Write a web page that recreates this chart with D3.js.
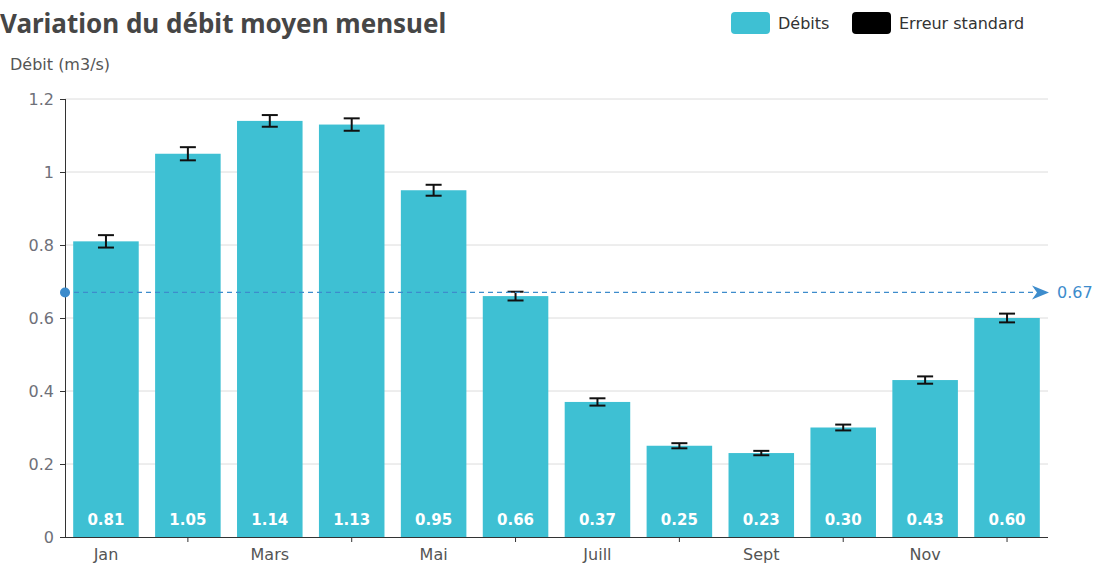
<!DOCTYPE html>
<html>
<head>
<meta charset="utf-8">
<script src="https://cdn.jsdelivr.net/npm/d3@7"></script>
<style>
  body { margin: 0; background: #fff; }
  text { font-family: "DejaVu Sans", sans-serif; }
</style>
</head>
<body>
<svg id="chart" width="1094" height="566"></svg>
<script>
// monthly data
var months = ["Jan", "Févr", "Mars", "Avr", "Mai", "Juin", "Juill", "Août", "Sept", "Oct", "Nov", "Déc"];
var debits = [0.81, 1.05, 1.14, 1.13, 0.95, 0.66, 0.37, 0.25, 0.23, 0.30, 0.43, 0.60];
var erreurs = [0.017, 0.018, 0.016, 0.017, 0.015, 0.012, 0.01, 0.007, 0.006, 0.008, 0.01, 0.012];
var yTicks = [0, 0.2, 0.4, 0.6, 0.8, 1, 1.2];
var moyenne = 0.67;

var barColor = "#3ec0d3",
    lineColor = "#3d8ccc";

var svg = d3.select("#chart");
var margin = {top: 99, left: 65, right: 46, bottom: 29},
    width = 1094 - margin.left - margin.right,
    height = 566 - margin.top - margin.bottom;

var g = svg.append("g")
  .attr("transform", "translate(" + margin.left + "," + margin.top + ")");

var x = d3.scaleBand()
  .domain(months)
  .range([0, width])
  .paddingInner(0.2)
  .paddingOuter(0.1);

var y = d3.scaleLinear()
  .domain([0, 1.2])
  .range([height, 0]);

// grid lines
g.selectAll(".grid")
  .data(yTicks.slice(1))
  .enter().append("line")
    .attr("x1", 0).attr("x2", width)
    .attr("y1", function(d) { return y(d); })
    .attr("y2", function(d) { return y(d); })
    .attr("stroke", "#dcdcdc");

// bars
g.selectAll(".bar")
  .data(debits)
  .enter().append("rect")
    .attr("class", "bar")
    .attr("x", function(d, i) { return x(months[i]); })
    .attr("width", x.bandwidth())
    .attr("y", function(d) { return y(d); })
    .attr("height", function(d) { return height - y(d); })
    .attr("fill", barColor);

// value labels inside bottom
g.selectAll(".val")
  .data(debits)
  .enter().append("text")
    .attr("x", function(d, i) { return x(months[i]) + x.bandwidth() / 2; })
    .attr("y", height - 12)
    .attr("text-anchor", "middle")
    .attr("fill", "#fff")
    .style("font-size", "15px")
    .style("font-weight", "bold")
    .text(function(d) { return d.toFixed(2); });

// error bars
var err = g.selectAll(".err")
  .data(debits)
  .enter().append("g")
    .attr("transform", function(d, i) { return "translate(" + (x(months[i]) + x.bandwidth() / 2) + ",0)"; });
err.append("line")
  .attr("y1", function(d, i) { return y(d + erreurs[i]); })
  .attr("y2", function(d, i) { return y(d - erreurs[i]); })
  .attr("stroke", "#111").attr("stroke-width", 2);
err.append("line")
  .attr("x1", -8).attr("x2", 8)
  .attr("y1", function(d, i) { return y(d + erreurs[i]); })
  .attr("y2", function(d, i) { return y(d + erreurs[i]); })
  .attr("stroke", "#111").attr("stroke-width", 2);
err.append("line")
  .attr("x1", -8).attr("x2", 8)
  .attr("y1", function(d, i) { return y(d - erreurs[i]); })
  .attr("y2", function(d, i) { return y(d - erreurs[i]); })
  .attr("stroke", "#111").attr("stroke-width", 2);

// y axis
var yAxis = g.append("g")
  .call(d3.axisLeft(y).tickValues(yTicks).tickSize(5).tickPadding(6)
    .tickFormat(function(d) { return d3.format("~g")(d); }));
yAxis.select(".domain").attr("stroke", "#333").attr("d", "M0.5," + height + "V0");
yAxis.selectAll(".tick line").attr("stroke", "#333");
yAxis.selectAll("text").attr("fill", "#6e7079").style("font-size", "16px");

// x axis: labels on every other month, ticks on the others
var xAxis = g.append("g")
  .attr("transform", "translate(0," + height + ")")
  .call(d3.axisBottom(x).tickSize(0).tickPadding(12)
    .tickFormat(function(d, i) { return i % 2 == 0 ? d : ""; }));
xAxis.select(".domain").attr("stroke", "#333").attr("d", "M0," + 0.5 + "H" + width);
xAxis.selectAll("text").attr("fill", "#555").style("font-size", "16px");
xAxis.selectAll(".tick").filter(function(d, i) { return i % 2 == 1; })
  .append("line")
    .attr("y2", 5).attr("stroke", "#333");

// mean line
var ym = y(moyenne);
g.append("line")
  .attr("x1", 0).attr("x2", width - 10)
  .attr("y1", ym).attr("y2", ym)
  .attr("stroke", lineColor)
  .attr("stroke-width", 1.3)
  .attr("stroke-dasharray", "5,4");
g.append("circle")
  .attr("cx", 0).attr("cy", ym).attr("r", 5)
  .attr("fill", lineColor);
g.append("path")
  .attr("d", "M" + (width - 16) + "," + (ym - 7) + "L" + (width + 1) + "," + ym + "L" + (width - 16) + "," + (ym + 7) + "L" + (width - 11) + "," + ym + "Z")
  .attr("fill", lineColor);
g.append("text")
  .attr("x", width + 9).attr("y", ym + 6)
  .attr("fill", lineColor)
  .style("font-size", "16px")
  .text(moyenne.toFixed(2));

// title
svg.append("text")
  .attr("x", 0).attr("y", 33)
  .attr("fill", "#464646")
  .style("font-family", "'Noto Sans', sans-serif")
  .style("font-size", "26px")
  .style("font-weight", "bold")
  .text("Variation du débit moyen mensuel");

svg.append("text")
  .attr("x", 10).attr("y", 70)
  .attr("fill", "#555")
  .style("font-size", "16px")
  .text("Débit (m3/s)");

// legend
var legend = [{name: "Débits", color: barColor, x: 731}, {name: "Erreur standard", color: "#000", x: 852}];
var lg = svg.selectAll(".legend")
  .data(legend)
  .enter().append("g")
    .attr("transform", function(d) { return "translate(" + d.x + ",12)"; });
lg.append("rect")
  .attr("width", 39).attr("height", 22).attr("rx", 4)
  .attr("fill", function(d) { return d.color; });
lg.append("text")
  .attr("x", 47).attr("y", 17)
  .attr("fill", "#333")
  .style("font-size", "16px")
  .text(function(d) { return d.name; });
</script>
</body>
</html>
